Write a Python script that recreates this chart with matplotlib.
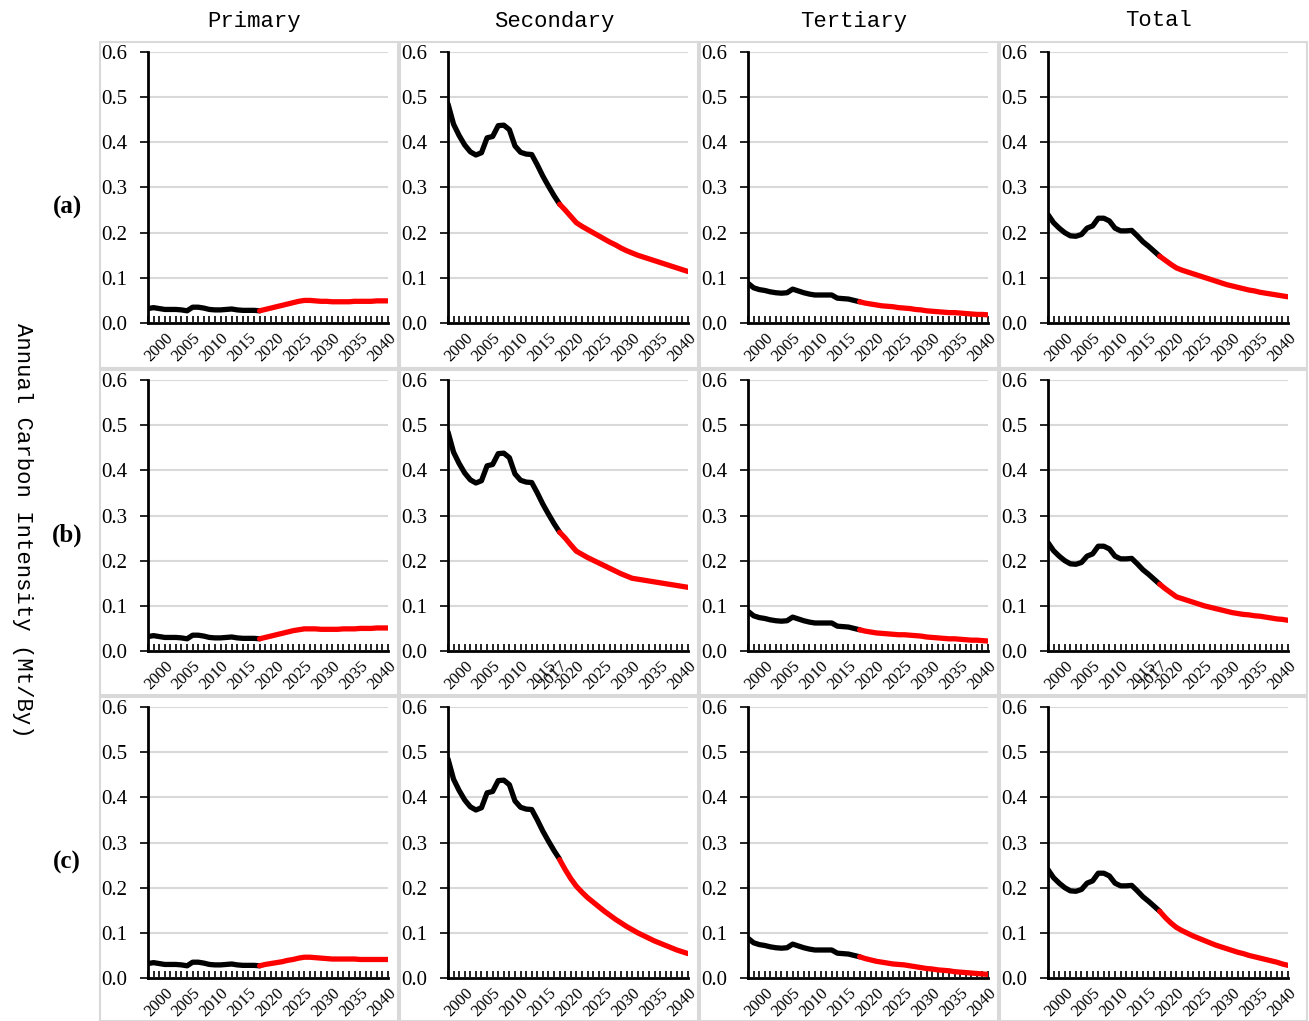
import matplotlib.pyplot as plt
from matplotlib.patches import Rectangle
from matplotlib.ticker import FixedLocator, MultipleLocator, FormatStrFormatter

hist_years = list(range(1997, 2018))
proj_years = list(range(2017, 2041))

sectors = ["Primary", "Secondary", "Tertiary", "Total"]
scenarios = ["(a)", "(b)", "(c)"]

# historical intensity 1997-2017 (same in all scenarios)
hist_primary = [0.032, 0.034, 0.032, 0.030, 0.030, 0.030, 0.029, 0.027, 0.035, 0.035, 0.033,
                0.030, 0.029, 0.029, 0.030, 0.031, 0.029, 0.028, 0.028, 0.028, 0.027]
hist_secondary = [0.485, 0.440, 0.415, 0.394, 0.379, 0.372, 0.377, 0.410, 0.413, 0.437, 0.438,
                  0.428, 0.392, 0.378, 0.374, 0.373, 0.350, 0.325, 0.303, 0.282, 0.263]
hist_tertiary = [0.088, 0.078, 0.074, 0.072, 0.069, 0.067, 0.066, 0.067, 0.075, 0.071, 0.067,
                 0.064, 0.062, 0.062, 0.062, 0.062, 0.055, 0.054, 0.053, 0.050, 0.047]
hist_total = [0.240, 0.222, 0.210, 0.200, 0.193, 0.192, 0.196, 0.210, 0.215, 0.232, 0.232,
              0.226, 0.210, 0.204, 0.204, 0.205, 0.193, 0.180, 0.170, 0.159, 0.148]

# projections 2017-2040, scenario (a)
proj_primary_a = [0.027, 0.030, 0.033, 0.036, 0.039, 0.042, 0.045, 0.048, 0.050, 0.050, 0.049, 0.048,
                  0.048, 0.047, 0.047, 0.047, 0.047, 0.048, 0.048, 0.048, 0.048, 0.049, 0.049, 0.049]
proj_secondary_a = [0.263, 0.250, 0.236, 0.222, 0.214, 0.207, 0.200, 0.193, 0.186, 0.179, 0.173, 0.166,
                    0.160, 0.155, 0.150, 0.146, 0.142, 0.138, 0.134, 0.130, 0.126, 0.122, 0.118, 0.114]
proj_tertiary_a = [0.047, 0.044, 0.042, 0.040, 0.038, 0.037, 0.036, 0.034, 0.033, 0.032, 0.030, 0.029,
                   0.027, 0.026, 0.025, 0.024, 0.023, 0.023, 0.022, 0.021, 0.020, 0.019, 0.019, 0.018]
proj_total_a = [0.148, 0.139, 0.130, 0.122, 0.117, 0.113, 0.109, 0.105, 0.101, 0.097, 0.093, 0.089,
                0.085, 0.082, 0.079, 0.076, 0.073, 0.071, 0.068, 0.066, 0.064, 0.062, 0.060, 0.058]

# scenario (b)
proj_primary_b = [0.027, 0.030, 0.033, 0.036, 0.039, 0.042, 0.045, 0.047, 0.049, 0.049, 0.049, 0.048,
                  0.048, 0.048, 0.048, 0.049, 0.049, 0.049, 0.050, 0.050, 0.050, 0.051, 0.051, 0.051]
proj_secondary_b = [0.263, 0.250, 0.235, 0.221, 0.214, 0.207, 0.201, 0.195, 0.189, 0.183, 0.177, 0.171,
                    0.166, 0.161, 0.159, 0.157, 0.155, 0.153, 0.151, 0.149, 0.147, 0.145, 0.143, 0.141]
proj_tertiary_b = [0.047, 0.044, 0.042, 0.040, 0.039, 0.038, 0.037, 0.036, 0.036, 0.035, 0.034, 0.033,
                   0.031, 0.030, 0.029, 0.028, 0.027, 0.027, 0.026, 0.025, 0.024, 0.024, 0.023, 0.022]
proj_total_b = [0.148, 0.138, 0.129, 0.120, 0.116, 0.112, 0.108, 0.104, 0.100, 0.097, 0.094, 0.091,
                0.088, 0.085, 0.083, 0.081, 0.080, 0.078, 0.077, 0.075, 0.073, 0.071, 0.070, 0.068]

# scenario (c)
proj_primary_c = [0.027, 0.030, 0.032, 0.034, 0.036, 0.039, 0.041, 0.044, 0.046, 0.046, 0.045, 0.044,
                  0.043, 0.042, 0.042, 0.042, 0.042, 0.042, 0.041, 0.041, 0.041, 0.041, 0.041, 0.041]
proj_secondary_c = [0.262, 0.240, 0.220, 0.203, 0.190, 0.178, 0.168, 0.158, 0.148, 0.139, 0.130, 0.122,
                    0.114, 0.107, 0.100, 0.094, 0.088, 0.082, 0.077, 0.072, 0.067, 0.062, 0.058, 0.054]
proj_tertiary_c = [0.047, 0.043, 0.040, 0.037, 0.035, 0.033, 0.031, 0.030, 0.029, 0.027, 0.025, 0.023,
                   0.021, 0.020, 0.018, 0.017, 0.016, 0.014, 0.013, 0.012, 0.011, 0.010, 0.009, 0.008]
proj_total_c = [0.148, 0.134, 0.122, 0.112, 0.105, 0.099, 0.093, 0.088, 0.083, 0.078, 0.073, 0.069,
                0.065, 0.061, 0.057, 0.054, 0.050, 0.047, 0.044, 0.041, 0.038, 0.035, 0.031, 0.028]

hist = [hist_primary, hist_secondary, hist_tertiary, hist_total]
proj = [[proj_primary_a, proj_secondary_a, proj_tertiary_a, proj_total_a],
        [proj_primary_b, proj_secondary_b, proj_tertiary_b, proj_total_b],
        [proj_primary_c, proj_secondary_c, proj_tertiary_c, proj_total_c]]

label_years = [2000, 2005, 2010, 2015, 2020, 2025, 2030, 2035, 2040]
# row (b) secondary and total carry an extra 2017 label
extra_label = {(1, 1): 2017, (1, 3): 2017}

W, H = 1309, 1021
fig = plt.figure(figsize=(W / 100, H / 100), dpi=100)

col_left = [148, 448, 748, 1048]
row_top = [52, 380, 707]
ax_w, ax_h = 240, 271
cell_x = [100, 400, 700, 1000, 1309]
cell_y = [40, 368, 695, 1021]

serif = "Liberation Serif"
mono = "Liberation Mono"

for r in range(3):
    for c in range(4):
        fig.add_artist(Rectangle((cell_x[c] / W, 1 - cell_y[r + 1] / H),
                                 (cell_x[c + 1] - cell_x[c] - 2) / W,
                                 (cell_y[r + 1] - cell_y[r] - 2) / H,
                                 transform=fig.transFigure, fill=False,
                                 edgecolor="#d9d9d9", lw=1.5, zorder=0))
        ax = fig.add_axes([col_left[c] / W, 1 - (row_top[r] + ax_h) / H, ax_w / W, ax_h / H])
        ax.plot(hist_years, hist[c], color="black", lw=3.8, solid_capstyle="round", zorder=3)
        ax.plot(proj_years, proj[r][c], color="#ff0000", lw=3.8, solid_capstyle="round", zorder=3)
        ax.set_xlim(1997, 2040)
        ax.set_ylim(0, 0.6)
        ax.yaxis.set_major_locator(MultipleLocator(0.1))
        ax.yaxis.set_major_formatter(FormatStrFormatter("%.1f"))
        ax.grid(axis="y", color="#d9d9d9", lw=1.5, zorder=0)
        ax.set_axisbelow(True)
        for s in ["top", "right"]:
            ax.spines[s].set_visible(False)
        ax.spines["left"].set_linewidth(2)
        ax.spines["bottom"].set_linewidth(2)
        ax.spines["bottom"].set_zorder(4)
        ticks = sorted(label_years + ([extra_label[(r, c)]] if (r, c) in extra_label else []))
        ax.xaxis.set_major_locator(FixedLocator(ticks))
        ax.xaxis.set_minor_locator(MultipleLocator(1))
        ax.set_xticklabels([str(t) for t in ticks], rotation=45, ha="right", va="top",
                           rotation_mode="anchor", fontsize=12, family=serif)
        ax.tick_params(axis="x", which="both", direction="in", length=5, width=1.2, pad=5)
        ax.tick_params(axis="y", direction="out", length=6, width=1.2, pad=9)
        for lab in ax.get_yticklabels():
            lab.set_fontfamily(serif)
            lab.set_fontsize(15)
        if r == 0:
            fig.text((cell_x[c] + cell_x[c + 1]) / 2 / W + 4 / W, 1 - 21 / H, sectors[c],
                     ha="center", va="center", fontsize=16, family=mono)
    fig.text(67 / W, 1 - (row_top[r] + 155) / H, scenarios[r], ha="center", va="center",
             fontsize=18, fontweight="bold", family=serif)

fig.text(22 / W, 1 - 530 / H, "Annual Carbon Intensity (Mt/By)", rotation=270,
         ha="center", va="center", fontsize=16, family=mono)

fig.savefig("out.png", dpi=100)
